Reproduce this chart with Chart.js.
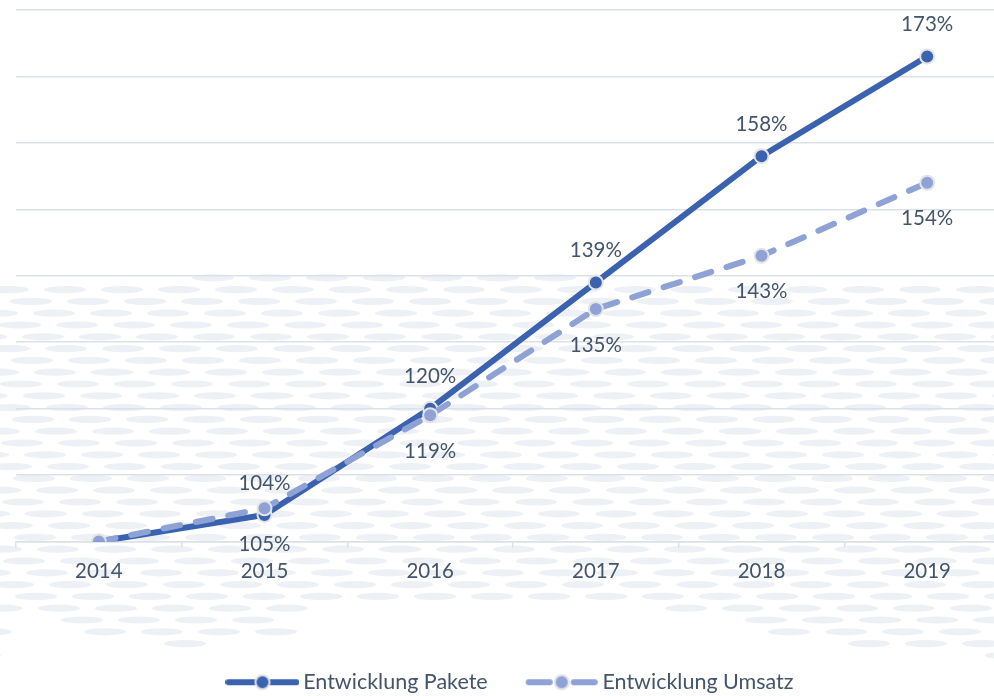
<!DOCTYPE html>
<html><head><meta charset="utf-8">
<script src="https://cdn.jsdelivr.net/npm/chart.js@4/dist/chart.umd.min.js"></script>
<style>
html,body{margin:0;padding:0;overflow:hidden;background:#fff;width:994px;height:696px}
#wrap{width:1030px;height:703px;position:relative}
</style></head><body><div id="wrap"><canvas id="c"></canvas></div>
<script>
const categories = ['2014','2015','2016','2017','2018','2019'];
const seriesNames = ['Entwicklung Pakete','Entwicklung Umsatz'];
const pakete = [100,104,120,139,158,173];
const umsatz = [100,105,119,135,143,154];
const paketeLabels = [null,'104%','120%','139%','158%','173%'];
const umsatzLabels = [null,'105%','119%','135%','143%','154%'];
const yMin = 100, yMax = 180, yStep = 10;

const COL_P = '#3A62AF';
const COL_U = '#8EA2D6';
const TXT = '#44546A';
const GRID = '#DCE1E9';
const FONT = 'Lato, "Open Sans", sans-serif';

function legendImg(color, dashed){
  const c = document.createElement('canvas');
  c.width = 74; c.height = 18;
  const g = c.getContext('2d');
  g.strokeStyle = color; g.lineWidth = 6; g.lineCap = 'round';
  g.beginPath();
  if(dashed){ g.moveTo(4,9); g.lineTo(25,9); g.moveTo(49,9); g.lineTo(70,9); }
  else { g.moveTo(3,9); g.lineTo(71,9); }
  g.stroke();
  g.beginPath(); g.arc(37,9,7,0,Math.PI*2);
  g.fillStyle = color; g.fill();
  g.lineWidth = 2; g.strokeStyle = '#E4E4E4'; g.stroke();
  return c;
}

const bgPattern = {
  id:'bgPattern',
  beforeDraw(chart){
    const ctx = chart.ctx; ctx.save(); ctx.fillStyle = '#EDF0F4';
    const top = [[0,288],[340,270],[700,283],[1030,290]];
    const bot = [[0,612],[140,645],[270,642],[330,602],[600,598],[700,612],[800,642],[1030,660]];
    const lerp = (pts,x)=>{ for(let i=0;i<pts.length-1;i++){ const a=pts[i],b=pts[i+1]; if(x>=a[0]&&x<=b[0]) return a[1]+(b[1]-a[1])*(x-a[0])/(b[0]-a[0]); } return pts[pts.length-1][1]; };
    for(let r=0;r<36;r++){
      const y = 266 + r*11.8; const off = (r*23)%57;
      for(let x=-60+off; x<1080; x+=57){
        const cx = x+22;
        if(y < lerp(top,cx) || y > lerp(bot,cx)) continue;
        ctx.beginPath(); ctx.ellipse(cx,y,21,3.6,0,0,Math.PI*2); ctx.fill();
      }
    }
    ctx.restore();
  }
};

const dataLabels = {
  id:'dataLabels',
  afterDatasetsDraw(chart){
    const ctx = chart.ctx; ctx.save();
    ctx.font = '20.5px ' + FONT; ctx.fillStyle = TXT;
    ctx.textAlign = 'center'; ctx.textBaseline = 'middle';
    chart.data.datasets.forEach((ds, di)=>{
      const meta = chart.getDatasetMeta(di);
      meta.data.forEach((pt, i)=>{
        const t = ds.pointLabels[i]; if(!t) return;
        ctx.fillText(t, pt.x, pt.y + ds.labelOffset);
      });
    });
    ctx.restore();
  }
};

const imgs = [legendImg(COL_P,false), legendImg(COL_U,true)];

new Chart(document.getElementById('c'), {
  type:'line',
  data:{
    labels: categories,
    datasets:[
      { label: seriesNames[1], data: umsatz, pointLabels: umsatzLabels, labelOffset: 36,
        borderColor: COL_U, backgroundColor: COL_U, borderWidth: 6, borderDash:[17,16], borderCapStyle:'round',
        pointRadius: 7, pointHoverRadius: 7, pointBackgroundColor: COL_U, pointBorderColor:'#E4E4E4', pointBorderWidth: 2,
        tension: 0, fill:false },
      { label: seriesNames[0], data: pakete, pointLabels: paketeLabels, labelOffset: -32,
        borderColor: COL_P, backgroundColor: COL_P, borderWidth: 6, borderCapStyle:'round',
        pointRadius: 7, pointHoverRadius: 7, pointBackgroundColor: COL_P, pointBorderColor:'#E4E4E4', pointBorderWidth: 2,
        tension: 0, fill:false }
    ]
  },
  options:{
    responsive:true, maintainAspectRatio:false, animation:false,
    layout:{ padding:{ left:16, right:20, top:10, bottom:0 } },
    scales:{
      x:{
        offset:true,
        grid:{ display:true, offset:true, drawOnChartArea:false, drawTicks:true, tickLength:6, color:GRID, lineWidth:1.5 },
        border:{ display:true, color:GRID, width:1.5 },
        ticks:{ color:TXT, font:{ family:FONT, size:20.5 }, padding:12 },
        afterFit(s){ s.height = 86; }
      },
      y:{
        min:yMin, max:yMax,
        ticks:{ display:false, stepSize:yStep },
        grid:{ color:GRID, lineWidth:1.5, drawTicks:false },
        border:{ display:false },
        afterFit(s){ s.width = 0; }
      }
    },
    plugins:{
      tooltip:{ enabled:false },
      legend:{
        position:'bottom',
        labels:{
          usePointStyle:true, pointStyleWidth:60, padding:44,
          color:TXT, font:{ family:FONT, size:21.5 },
          generateLabels(chart){
            return [0,1].map(k=>({
              text: seriesNames[k], fillStyle: k?COL_U:COL_P, strokeStyle: k?COL_U:COL_P,
              lineWidth:0, pointStyle: imgs[k], hidden:false, datasetIndex: 1-k, fontColor: TXT
            }));
          }
        }
      }
    }
  },
  plugins:[bgPattern, dataLabels]
});
</script>
</body></html>
